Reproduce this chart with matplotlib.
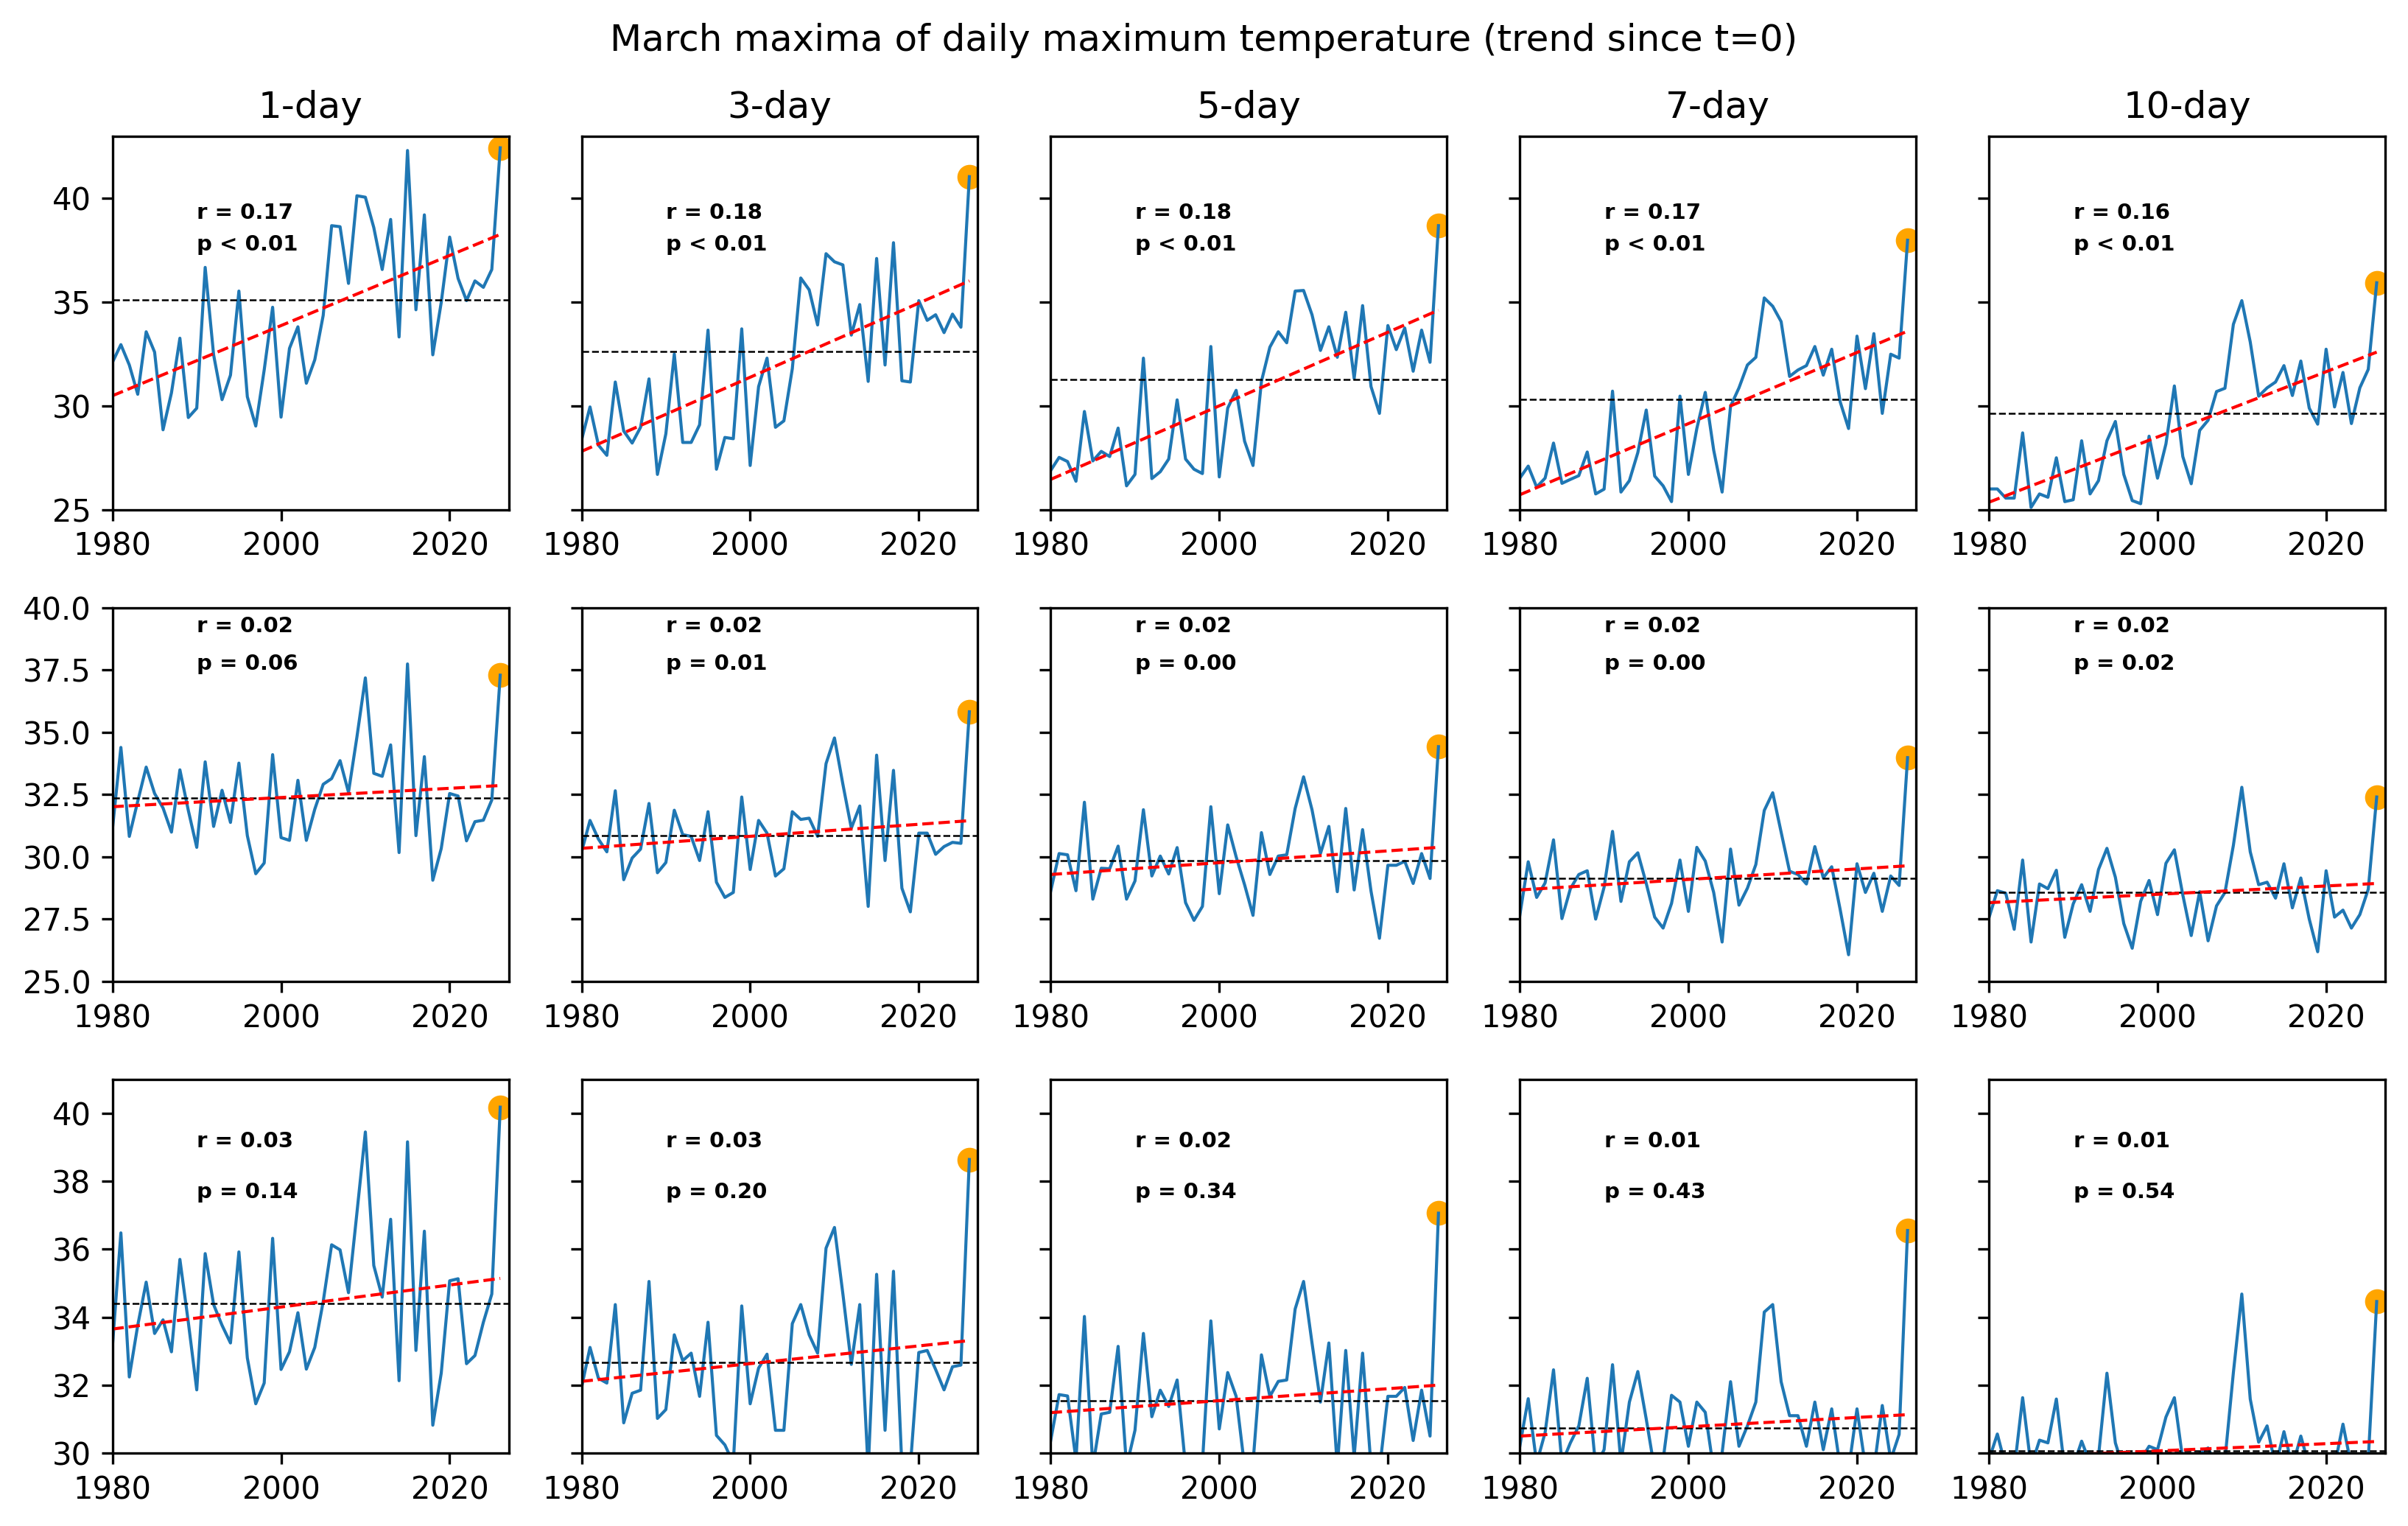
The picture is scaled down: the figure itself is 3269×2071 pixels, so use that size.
import numpy as np
import matplotlib
matplotlib.use("Agg")
import matplotlib.pyplot as plt

years = np.arange(1980, 2027)
windows = ["1-day", "3-day", "5-day", "7-day", "10-day"]

# row 1
r1_1day = [32.10, 32.95, 31.97, 30.56, 33.57, 32.59, 28.85, 30.63, 33.26, 29.44,
           29.89, 36.67, 32.46, 30.30, 31.48, 35.53, 30.44, 29.03, 31.73, 34.75,
           29.46, 32.77, 33.81, 31.09, 32.22, 34.36, 38.68, 38.63, 35.90, 40.12,
           40.05, 38.59, 36.57, 38.98, 33.32, 42.30, 34.63, 39.20, 32.46, 34.98,
           38.13, 36.14, 35.07, 36.02, 35.71, 36.57, 42.43]
r1_3day = [28.36, 29.95, 28.11, 27.62, 31.15, 28.79, 28.21, 28.97, 31.30, 26.70,
           28.66, 32.50, 28.24, 28.24, 29.09, 33.65, 26.95, 28.48, 28.42, 33.71,
           27.13, 30.93, 32.30, 28.97, 29.28, 31.79, 36.16, 35.59, 33.90, 37.33,
           36.94, 36.79, 33.41, 34.88, 31.18, 37.10, 31.97, 37.86, 31.21, 31.15,
           35.07, 34.12, 34.39, 33.53, 34.42, 33.79, 41.04]
r1_5day = [26.89, 27.52, 27.32, 26.37, 29.73, 27.35, 27.81, 27.56, 28.93, 26.15,
           26.70, 32.30, 26.50, 26.83, 27.44, 30.29, 27.44, 26.95, 26.74, 32.86,
           26.58, 29.89, 30.75, 28.30, 27.13, 31.18, 32.83, 33.57, 33.04, 35.53,
           35.56, 34.39, 32.67, 33.81, 32.34, 34.51, 31.32, 34.83, 30.93, 29.64,
           33.87, 32.71, 33.75, 31.67, 33.65, 32.10, 38.68]
r1_7day = [26.52, 27.10, 26.09, 26.52, 28.21, 26.27, 26.46, 26.64, 27.78, 25.76,
           25.99, 30.71, 25.85, 26.40, 27.75, 29.80, 26.62, 26.15, 25.39, 30.47,
           26.70, 28.91, 30.65, 27.87, 25.85, 29.98, 30.87, 31.97, 32.34, 35.20,
           34.80, 34.06, 31.42, 31.73, 31.94, 32.86, 31.48, 32.73, 30.20, 28.91,
           33.36, 30.83, 33.48, 29.64, 32.49, 32.30, 37.98]
r1_10day = [26.00, 26.00, 25.56, 25.56, 28.70, 25.11, 25.76, 25.60, 27.50, 25.39,
            25.48, 28.32, 25.76, 26.40, 28.32, 29.25, 26.70, 25.44, 25.29, 28.54,
            26.52, 28.17, 30.96, 27.56, 26.25, 28.82, 29.31, 30.69, 30.85, 33.93,
            35.07, 33.08, 30.47, 30.87, 31.15, 31.94, 30.50, 32.16, 29.89, 29.12,
            32.73, 29.95, 31.61, 29.15, 30.87, 31.76, 35.93]

# row 2
r2_1day = [31.12, 34.39, 30.82, 32.23, 33.60, 32.54, 31.96, 30.99, 33.49, 31.86,
           30.38, 33.81, 31.22, 32.67, 31.38, 33.76, 30.85, 29.32, 29.75, 34.10,
           30.77, 30.66, 33.07, 30.66, 31.91, 32.91, 33.14, 33.86, 32.59, 34.81,
           37.18, 33.35, 33.23, 34.49, 30.17, 37.74, 30.85, 34.02, 29.06, 30.33,
           32.54, 32.44, 30.64, 31.41, 31.47, 32.28, 37.29]
r2_3day = [30.20, 31.46, 30.71, 30.20, 32.65, 29.08, 29.95, 30.31, 32.14, 29.36,
           29.77, 31.87, 30.89, 30.82, 29.85, 31.81, 28.98, 28.37, 28.57, 32.40,
           29.49, 31.46, 30.95, 29.23, 29.52, 31.81, 31.50, 31.55, 30.82, 33.74,
           34.77, 32.91, 31.15, 32.04, 28.01, 34.08, 29.85, 33.47, 28.74, 27.79,
           30.95, 30.95, 30.10, 30.41, 30.58, 30.54, 35.82]
r2_5day = [28.62, 30.13, 30.08, 28.64, 32.19, 28.30, 29.54, 29.52, 30.43, 28.30,
           29.03, 31.89, 29.23, 30.03, 29.31, 30.37, 28.16, 27.45, 28.01, 32.01,
           28.52, 31.28, 30.00, 28.88, 27.65, 30.97, 29.29, 30.03, 30.08, 31.94,
           33.21, 31.89, 30.13, 31.22, 28.60, 31.94, 28.67, 31.09, 28.62, 26.73,
           29.66, 29.66, 29.82, 28.93, 30.13, 29.13, 34.42]
r2_7day = [27.65, 29.80, 28.37, 28.95, 30.68, 27.52, 28.72, 29.29, 29.44, 27.50,
           28.78, 31.02, 28.21, 29.80, 30.16, 28.93, 27.58, 27.14, 28.13, 29.87,
           27.81, 30.38, 29.83, 28.57, 26.58, 30.31, 28.06, 28.74, 29.69, 31.86,
           32.57, 30.99, 29.42, 29.29, 28.91, 30.41, 29.16, 29.60, 27.89, 26.07,
           29.72, 28.57, 29.34, 27.81, 29.23, 28.85, 33.98]
r2_10day = [27.55, 28.64, 28.54, 27.09, 29.87, 26.58, 28.91, 28.72, 29.46, 26.77,
            28.11, 28.88, 27.81, 29.49, 30.34, 29.18, 27.32, 26.33, 28.21, 29.05,
            27.68, 29.74, 30.28, 28.47, 26.84, 28.60, 26.63, 28.03, 28.57, 30.46,
            32.79, 30.20, 28.88, 28.98, 28.34, 29.72, 27.95, 29.15, 27.50, 26.19,
            29.44, 27.58, 27.86, 27.14, 27.68, 28.70, 32.40]

# row 3
r3_1day = [33.15, 36.48, 32.24, 33.76, 35.03, 33.52, 33.92, 32.98, 35.70, 33.85,
           31.86, 35.87, 34.37, 33.76, 33.24, 35.92, 32.80, 31.45, 32.06, 36.32,
           32.46, 32.98, 34.13, 32.47, 33.11, 34.46, 36.13, 35.98, 34.72, 37.07,
           39.45, 35.52, 34.59, 36.88, 32.13, 39.16, 33.02, 36.53, 30.82, 32.35,
           35.07, 35.13, 32.63, 32.87, 33.85, 34.68, 40.18]
r3_3day = [31.93, 33.11, 32.20, 32.06, 34.37, 30.89, 31.76, 31.85, 35.05, 31.02,
           31.28, 33.48, 32.72, 32.94, 31.67, 33.85, 30.52, 30.24, 29.70, 34.33,
           31.45, 32.50, 32.91, 30.67, 30.67, 33.81, 34.37, 33.48, 32.94, 36.03,
           36.64, 34.68, 32.61, 34.37, 29.50, 35.26, 30.67, 35.35, 29.60, 29.60,
           32.96, 33.02, 32.46, 31.86, 32.54, 32.59, 38.64]
r3_5day = [30.37, 31.72, 31.68, 29.80, 34.02, 29.60, 31.15, 31.20, 33.14, 29.60,
           30.67, 33.52, 31.07, 31.85, 31.37, 32.15, 29.60, 29.50, 29.70, 33.89,
           30.71, 32.37, 31.67, 29.60, 29.70, 32.89, 31.67, 32.11, 32.15, 34.24,
           35.05, 33.24, 31.50, 33.24, 29.60, 33.02, 29.90, 32.94, 29.60, 29.50,
           31.67, 31.67, 31.93, 30.37, 31.85, 30.50, 37.06]
r3_7day = [30.20, 31.60, 29.70, 30.60, 32.45, 29.70, 30.30, 30.80, 32.20, 29.60,
           30.10, 32.60, 29.70, 31.50, 32.40, 31.00, 29.50, 29.80, 31.70, 31.50,
           30.20, 31.50, 31.20, 29.50, 30.00, 32.10, 30.20, 30.80, 31.50, 34.15,
           34.37, 32.10, 31.10, 31.10, 30.20, 31.50, 30.10, 31.30, 29.60, 29.50,
           31.30, 29.60, 29.50, 31.40, 29.80, 30.55, 36.55]
r3_10day = [29.80, 30.56, 29.60, 29.50, 31.63, 29.60, 30.38, 30.30, 31.59, 29.50,
            29.60, 30.35, 29.70, 29.90, 32.35, 30.30, 29.50, 29.60, 29.80, 30.20,
            30.10, 31.06, 31.63, 29.80, 29.70, 30.00, 30.15, 29.60, 29.80, 32.37,
            34.68, 31.59, 30.32, 30.80, 29.60, 30.63, 29.60, 30.50, 29.60, 29.50,
            29.70, 29.60, 30.85, 29.60, 29.50, 29.80, 34.46]

series = [
    [r1_1day, r1_3day, r1_5day, r1_7day, r1_10day],
    [r2_1day, r2_3day, r2_5day, r2_7day, r2_10day],
    [r3_1day, r3_3day, r3_5day, r3_7day, r3_10day],
]

# dashed reference level per panel
ref_level = [
    [35.10, 32.61, 31.26, 30.32, 29.64],
    [32.36, 30.85, 29.84, 29.15, 28.57],
    [34.40, 32.67, 31.54, 30.74, 30.06],
]
# trend line value at first and last year
trend_start = [
    [30.49, 27.81, 26.46, 25.72, 25.36],
    [32.01, 30.34, 29.29, 28.67, 28.16],
    [33.65, 32.11, 31.19, 30.50, 29.85],
]
trend_end = [
    [38.26, 36.02, 34.61, 33.60, 32.59],
    [32.86, 31.45, 30.38, 29.64, 28.93],
    [35.14, 33.31, 32.00, 31.13, 30.34],
]

r_labels = [
    ["0.17", "0.18", "0.18", "0.17", "0.16"],
    ["0.02", "0.02", "0.02", "0.02", "0.02"],
    ["0.03", "0.03", "0.02", "0.01", "0.01"],
]
p_labels = [
    ["< 0.01", "< 0.01", "< 0.01", "< 0.01", "< 0.01"],
    ["= 0.06", "= 0.01", "= 0.00", "= 0.00", "= 0.02"],
    ["= 0.14", "= 0.20", "= 0.34", "= 0.43", "= 0.54"],
]

row_ylims = [(25, 43), (25, 40), (30, 41)]

fig, axes = plt.subplots(3, 5, figsize=(3269 / 300, 2071 / 300), dpi=300,
                         sharey="row")
fig.subplots_adjust(left=0.0467, right=0.9905, top=0.9109, bottom=0.0478,
                    wspace=0.184, hspace=0.262)

for i in range(3):
    for j in range(5):
        ax = axes[i, j]
        vals = series[i][j]
        ax.plot(years, vals, color="#1f77b4", linewidth=1.0)
        ax.scatter(years[-1], vals[-1], color="orange", s=50)
        ax.axhline(ref_level[i][j], color="black", linestyle="--", linewidth=0.6)
        ax.plot([years[0], years[-1]], [trend_start[i][j], trend_end[i][j]],
                color="red", linestyle="--", linewidth=1.0)
        ax.text(1990, 39, f"r = {r_labels[i][j]}", fontsize=7, fontweight="bold")
        ax.text(1990, 37.5, f"p {p_labels[i][j]}", fontsize=7, fontweight="bold")
        ax.set_xlim(1980, 2027)
        ax.set_ylim(*row_ylims[i])
        ax.set_xticks([1980, 2000, 2020])
        if i == 0:
            ax.set_title(windows[j])

axes[2, 0].set_yticks([30, 32, 34, 36, 38, 40])

fig.suptitle("March maxima of daily maximum temperature (trend since t=0)",
             y=0.985)

plt.savefig("out.png", dpi=300)
plt.close()
